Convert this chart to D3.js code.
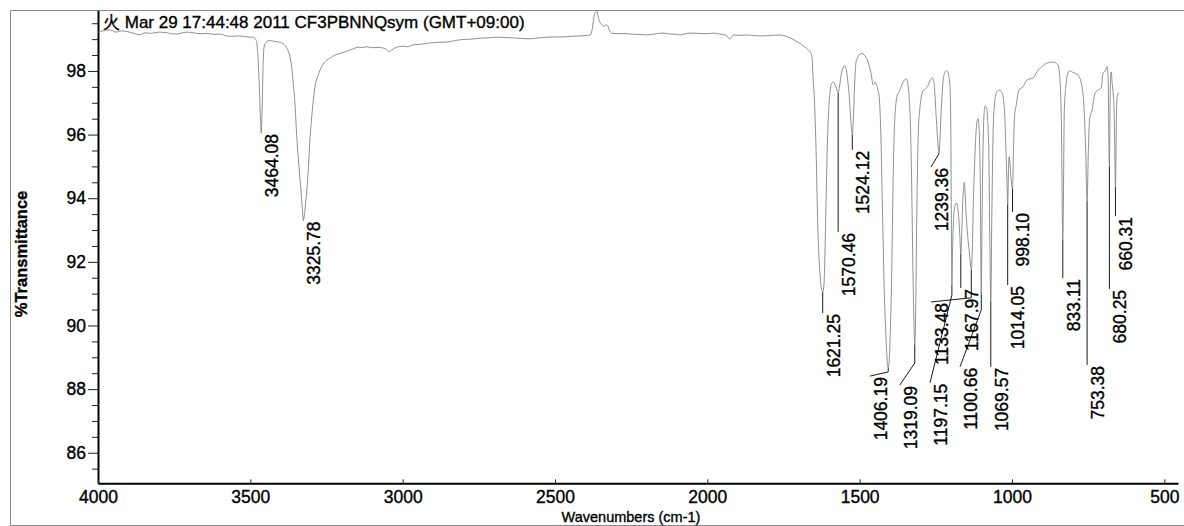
<!DOCTYPE html>
<html>
<head>
<meta charset="utf-8">
<script src="https://cdn.jsdelivr.net/npm/d3@7"></script>
<style>
  html, body { margin: 0; padding: 0; background: #fff; }
  svg { display: block; }
  text { font-family: "Liberation Sans", Arial, Helvetica, sans-serif; fill: #000; stroke: #000; stroke-width: 0.35; }
</style>
</head>
<body>
<svg id="chart" width="1184" height="526"></svg>
<script>
// IR spectrum trace: wavenumber (cm-1) and %T
const wavenumber = [
  4000, 3993, 3975, 3960, 3940, 3925, 3905, 3885, 3862, 3845, 3829, 3800, 3773, 3750, 3731, 3710,
  3688, 3665, 3642, 3620, 3600, 3578, 3557, 3535, 3511, 3491, 3481, 3476, 3471, 3467, 3464.08, 3461,
  3458, 3455, 3446, 3435, 3426, 3415, 3402, 3393, 3386, 3378, 3370, 3364, 3359, 3353, 3348, 3342,
  3337, 3331, 3325.78, 3321, 3315, 3309, 3304, 3298, 3292, 3286, 3278, 3270, 3261, 3250, 3238, 3222,
  3205, 3190, 3173, 3160, 3146, 3130, 3117, 3100, 3080, 3064, 3051, 3045, 3036, 3018, 3000, 2985,
  2966, 2940, 2910, 2880, 2854, 2830, 2802, 2775, 2746, 2720, 2690, 2660, 2638, 2610, 2582, 2555,
  2526, 2500, 2474, 2445, 2418, 2395, 2385, 2378, 2373, 2368, 2363, 2358, 2352, 2346, 2340, 2333,
  2327, 2320, 2310, 2290, 2270, 2254, 2230, 2210, 2198, 2175, 2145, 2120, 2100, 2090, 2070, 2057,
  2030, 2000, 1981, 1960, 1945, 1935, 1929, 1925, 1920, 1916, 1895, 1870, 1845, 1817, 1790, 1761,
  1745, 1728, 1716, 1705, 1695, 1686, 1678, 1669, 1662, 1656, 1653, 1648, 1643, 1637, 1630, 1626,
  1621.25, 1617, 1614, 1610, 1607, 1603, 1598, 1594, 1590, 1587, 1583, 1578, 1574, 1570.46, 1567, 1562,
  1558, 1554, 1550, 1546, 1542, 1538, 1534, 1530, 1527, 1524.12, 1521, 1518, 1515, 1512, 1507, 1502,
  1497, 1492, 1487, 1482, 1477, 1472, 1467, 1462, 1459, 1456, 1452, 1449, 1445, 1440, 1436, 1432,
  1429, 1426, 1423, 1420, 1416, 1412, 1409, 1406.19, 1403, 1400, 1396, 1393, 1390, 1387, 1384, 1380,
  1376, 1371, 1366, 1361, 1356, 1351, 1347, 1344, 1340, 1337, 1334, 1331, 1328, 1325, 1322, 1319.09,
  1316, 1313, 1310, 1307, 1303, 1299, 1295, 1290, 1285, 1280, 1275, 1270, 1265, 1261, 1257, 1253,
  1249, 1245, 1242, 1239.36, 1236, 1233, 1229, 1226, 1222, 1218, 1214, 1210, 1207, 1204, 1201, 1199,
  1197.15, 1195, 1192, 1189, 1186, 1182, 1178, 1174, 1171, 1167.97, 1165, 1162, 1159, 1156.5, 1154, 1151,
  1147, 1142, 1138, 1133.48, 1130, 1127, 1123, 1119, 1115, 1111, 1107, 1104, 1100.66, 1098, 1095, 1092,
  1088, 1084, 1080, 1076, 1073, 1069.57, 1066, 1062, 1058, 1054, 1050, 1045, 1040, 1035, 1030, 1026,
  1022, 1019, 1016, 1014.05, 1011, 1009.5, 1006, 1003, 998.10, 995, 992, 986, 977, 964, 950, 931,
  914, 899, 885, 865, 849, 843, 838, 833.11, 828, 822, 815, 809, 799, 783, 770, 763,
  758, 753.38, 749, 745, 737, 727, 717, 707, 701, 694, 688, 684.5, 680.25, 677, 674.5, 671,
  668, 664, 660.31, 657, 655, 651, 648
];
const transmittance = [
  99.22, 99.24, 99.28, 99.29, 99.22, 99.26, 99.24, 99.19, 99.14, 99.20, 99.18, 99.22, 99.20, 99.16, 99.18, 99.22,
  99.20, 99.17, 99.18, 99.15, 99.16, 99.10, 99.09, 99.10, 99.07, 99.06, 98.97, 98.60, 97.60, 96.60, 96.06, 96.90,
  98.20, 98.75, 98.92, 98.96, 98.94, 98.92, 98.90, 98.86, 98.80, 98.68, 98.45, 98.10, 97.60, 96.90, 96.00, 95.20,
  94.60, 93.90, 93.32, 93.60, 94.20, 95.00, 95.90, 96.60, 97.20, 97.60, 97.85, 98.05, 98.22, 98.33, 98.41, 98.50,
  98.55, 98.60, 98.66, 98.70, 98.75, 98.74, 98.76, 98.73, 98.74, 98.72, 98.66, 98.60, 98.66, 98.75, 98.78, 98.76,
  98.82, 98.84, 98.88, 98.90, 98.91, 98.95, 98.99, 99.00, 99.03, 99.04, 99.06, 99.05, 99.04, 99.02, 99.01, 99.04,
  99.06, 99.07, 99.07, 99.09, 99.10, 99.12, 99.13, 99.30, 99.65, 99.85, 99.90, 99.70, 99.52, 99.45, 99.40, 99.45,
  99.42, 99.25, 99.18, 99.17, 99.18, 99.16, 99.15, 99.14, 99.13, 99.16, 99.19, 99.16, 99.15, 99.13, 99.17, 99.19,
  99.18, 99.17, 99.19, 99.16, 99.14, 99.10, 99.02, 99.01, 99.08, 99.13, 99.12, 99.13, 99.11, 99.10, 99.12, 99.13,
  99.10, 99.04, 98.98, 98.91, 98.86, 98.79, 98.75, 98.66, 98.60, 98.40, 97.81, 97.00, 95.50, 93.00, 91.60, 91.20,
  91.05, 91.30, 92.20, 94.00, 95.30, 96.50, 97.25, 97.55, 97.63, 97.65, 97.62, 97.50, 97.38, 97.31, 97.45, 97.80,
  98.00, 98.12, 98.16, 98.10, 97.95, 97.60, 97.20, 96.60, 96.20, 95.99, 96.40, 97.20, 97.90, 98.27, 98.42, 98.50,
  98.54, 98.55, 98.52, 98.47, 98.40, 98.28, 98.10, 97.90, 97.70, 97.57, 97.59, 97.65, 97.58, 97.40, 97.20, 96.50,
  95.50, 94.00, 92.70, 91.40, 90.20, 89.30, 88.80, 88.66, 88.90, 89.60, 91.00, 92.70, 94.60, 95.90, 96.60, 97.05,
  97.25, 97.33, 97.45, 97.57, 97.68, 97.73, 97.75, 97.70, 97.45, 97.10, 96.50, 95.40, 93.70, 91.70, 90.20, 89.40,
  90.50, 93.00, 95.00, 96.20, 96.75, 97.10, 97.30, 97.40, 97.42, 97.48, 97.55, 97.68, 97.75, 97.78, 97.70, 97.30,
  96.60, 96.00, 95.60, 95.42, 95.90, 96.60, 97.30, 97.70, 97.90, 97.98, 98.01, 97.96, 97.82, 97.60, 96.50, 93.50,
  91.27, 92.40, 93.30, 93.65, 93.80, 93.85, 93.70, 93.30, 92.80, 92.25, 92.90, 93.80, 94.30, 94.50, 94.20, 93.60,
  93.00, 92.50, 92.10, 91.75, 92.40, 93.80, 95.00, 95.90, 96.40, 96.50, 96.00, 94.50, 91.00, 93.50, 95.50, 96.60,
  96.90, 96.85, 96.50, 95.40, 93.00, 90.75, 93.50, 96.00, 96.90, 97.20, 97.33, 97.38, 97.40, 97.35, 97.22, 96.95,
  96.20, 95.30, 94.40, 93.80, 95.00, 95.30, 95.00, 94.60, 94.30, 95.50, 96.50, 96.93, 97.40, 97.50, 97.72, 97.78,
  98.03, 98.15, 98.25, 98.28, 98.19, 97.80, 96.50, 92.70, 96.80, 97.62, 97.97, 98.00, 97.95, 97.87, 97.50, 96.77,
  95.50, 93.90, 95.60, 96.50, 96.77, 97.31, 97.40, 97.47, 97.94, 98.00, 98.13, 97.80, 95.00, 97.60, 97.97, 97.60,
  97.31, 96.50, 94.35, 96.60, 97.18, 97.30, 97.31
];

// Labelled absorption peaks
const peakWavenumbers = [3464.08, 3325.78, 1621.25, 1570.46, 1524.12, 1406.19, 1319.09, 1239.36, 1197.15,
  1167.97, 1133.48, 1100.66, 1069.57, 1014.05, 998.10, 833.11, 753.38, 680.25, 660.31];
const peakLabels = peakWavenumbers.map(d => d.toFixed(2));

// Callout routing for each label: the leader drops to calloutDropT,
// then runs to (calloutEndWn, calloutEndT) where the label starts.
const calloutDropT = [96.05, 93.30, 90.39, 92.94, 95.52, 88.54, 88.82, 95.40, 90.96,
  91.18, 90.87, 90.49, 88.70, 91.27, 93.57, 91.49, 88.76, 91.15, 93.44];
const calloutEndWn = [3464.08, 3325.78, 1621.25, 1570.46, 1524.12, 1466, 1368, 1266, 1269,
  1167.97, 1266, 1170.6, 1069.57, 1014.05, 998.10, 833.11, 753.38, 680.25, 660.31];
const calloutEndT = [96.05, 93.30, 90.39, 92.94, 95.52, 88.41, 88.13, 94.98, 88.20,
  91.18, 90.74, 88.70, 88.70, 91.27, 93.57, 91.49, 88.76, 91.15, 93.44];

const yMajorTicks = [86, 88, 90, 92, 94, 96, 98];
const xMajorTicks = [4000, 3500, 3000, 2500, 2000, 1500, 1000, 500];

const titleText = "火 Mar 29 17:44:48 2011 CF3PBNNQsym (GMT+09:00)";
const xTitle = "Wavenumbers (cm-1)";
const yTitle = "%Transmittance";

const svg = d3.select("#chart");
const W = 1184, H = 526;
const plot = { left: 98, right: 1178, top: 10.5, bottom: 483.3 };

const x = d3.scaleLinear().domain([4000, 455]).range([plot.left, plot.right]);
const y = d3.scaleLinear().domain([85.04, 99.9]).range([plot.bottom, plot.top]);

// page frame
svg.append("path")
  .attr("d", `M${W + 5},${plot.top}H10.5V${H - 0.5}H${W + 5}`)
  .attr("fill", "none").attr("stroke", "#8a8a8a").attr("stroke-width", 1);

// y axis with half-unit minor ticks
const yMinor = d3.range(85.5, 99.9, 0.5).filter(v => !yMajorTicks.includes(v));
svg.append("g")
  .attr("transform", `translate(${plot.left},0)`)
  .call(d3.axisLeft(y).tickValues(yMinor).tickSize(6).tickFormat(""))
  .call(g => g.select(".domain").remove())
  .call(g => g.selectAll("line").attr("stroke", "#222"));

const yAxis = svg.append("g")
  .attr("transform", `translate(${plot.left},0)`)
  .call(d3.axisLeft(y).tickValues(yMajorTicks).tickSize(10).tickSizeOuter(0).tickPadding(2).tickFormat(d3.format("d")));
yAxis.select(".domain").attr("stroke", "#000").attr("stroke-width", 2);
yAxis.selectAll("line").attr("stroke", "#222");
yAxis.selectAll("text").attr("font-size", 17.5).attr("font-family", '"Liberation Sans", Arial, sans-serif');

// x axis
const xAxis = svg.append("g")
  .attr("transform", `translate(0,${plot.bottom})`)
  .call(d3.axisBottom(x).tickValues(xMajorTicks).tickSizeInner(-4).tickSizeOuter(0).tickPadding(7).tickFormat(d3.format("d")));
xAxis.select(".domain").attr("stroke", "#000").attr("stroke-width", 2);
xAxis.selectAll("line").attr("stroke", "#222");
xAxis.selectAll("text").attr("font-size", 17.5).attr("font-family", '"Liberation Sans", Arial, sans-serif');

// spectrum trace
const trace = wavenumber.map((w, i) => [w, transmittance[i]]);
svg.append("path")
  .datum(trace)
  .attr("fill", "none")
  .attr("stroke", "#7c7c7c")
  .attr("stroke-width", 0.85)
  .attr("d", d3.line().x(d => x(d[0])).y(d => y(d[1])).curve(d3.curveMonotoneX));

// peak callouts
const callouts = svg.append("g");
peakWavenumbers.forEach((w, i) => {
  const tipT = transmittance[wavenumber.indexOf(w)];
  const x0 = x(w), y0 = y(tipT);
  const y1 = y(calloutDropT[i]);
  const x2 = x(calloutEndWn[i]), y2 = y(calloutEndT[i]);
  callouts.append("path")
    .attr("d", `M${x0},${y0}V${y1}L${x2},${y2}`)
    .attr("fill", "none").attr("stroke", "#000").attr("stroke-width", 0.9);
  callouts.append("text")
    .attr("transform", `translate(${x2 + 10.5},${y2 + 1}) rotate(-90)`)
    .attr("text-anchor", "end")
    .attr("dy", "0.36em")
    .attr("font-size", 17.5)
    .text(peakLabels[i]);
});

// header and axis titles
svg.append("text")
  .attr("x", 103).attr("y", 28)
  .attr("font-size", 17)
  .attr("font-family", '"Liberation Sans", "Noto Sans CJK JP", Arial, sans-serif')
  .text(titleText);

svg.append("text")
  .attr("x", 631).attr("y", 522)
  .attr("text-anchor", "middle")
  .attr("font-size", 14.5)
  .text(xTitle);

svg.append("text")
  .attr("transform", "translate(21,254) rotate(-90)")
  .attr("text-anchor", "middle")
  .attr("dy", "0.35em")
  .attr("font-size", 16.5)
  .attr("font-weight", "bold")
  .attr("stroke-width", 0)
  .text(yTitle);
</script>
</body>
</html>
